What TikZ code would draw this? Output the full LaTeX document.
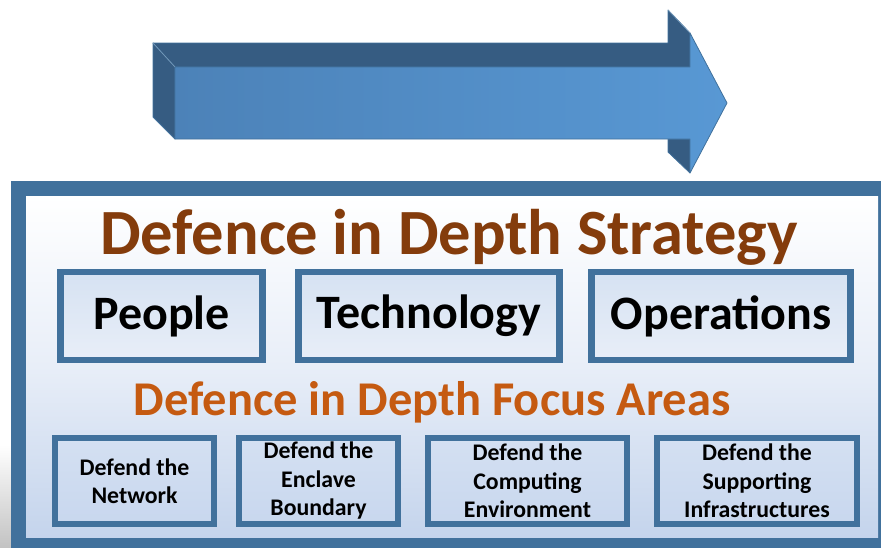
\documentclass[tikz,border=0pt]{standalone}
\usepackage{fontspec}
\setmainfont{Carlito}
\definecolor{frameblue}{RGB}{65,113,156}
\definecolor{arrowdark}{RGB}{54,92,130}
\definecolor{arrowleft}{RGB}{76,130,184}
\definecolor{arrowright}{RGB}{88,152,212}
\definecolor{titlebrown}{RGB}{132,60,12}
\definecolor{suborange}{RGB}{197,90,17}
\definecolor{bgtop}{RGB}{255,255,255}
\definecolor{bgbot}{RGB}{196,212,236}
\tikzset{
  bigbox/.style={draw=frameblue, line width=6.5pt, top color={rgb,255:red,214;green,226;blue,242}, bottom color={rgb,255:red,232;green,238;blue,248}, minimum height=88pt, inner sep=0pt, font=\bfseries\fontsize{48}{50}\selectfont},
  smallbox/.style={draw=frameblue, line width=5.5pt, top color={rgb,255:red,212;green,224;blue,242}, bottom color={rgb,255:red,200;green,215;blue,238}, minimum height=86pt, inner sep=0pt, align=center, font=\bfseries\fontsize{23.8}{28.5}\selectfont},
  arrowedge/.style={draw=frameblue, line width=0.8pt, line join=round}
}
\begin{document}
\begin{tikzpicture}[x=1pt,y=-1pt]
\useasboundingbox (0,0) rectangle (881,547);
% left soft shadow
\shade[top color=white, bottom color={rgb,255:red,195;green,195;blue,195}] (0,445) rectangle (11,547);
% arrow
\coordinate (a1) at (153,43);
\coordinate (a2) at (175,67);
\coordinate (a3) at (175,139);
\coordinate (a4) at (153,117);
\coordinate (h1) at (668,43);
\coordinate (h2) at (668,10);
\coordinate (h3) at (690,33);
\coordinate (h4) at (690,67);
\coordinate (tip) at (727,103);
\coordinate (h5) at (690,173);
\coordinate (h6) at (690,139);
\coordinate (h7) at (668,152);
\coordinate (h8) at (668,139);
\filldraw[fill=arrowdark, arrowedge] (a1) -- (h1) -- (h2) -- (h3) -- (h4) -- (a2) -- cycle;
\filldraw[fill=arrowdark, arrowedge] (a1) -- (a2) -- (a3) -- (a4) -- cycle;
\filldraw[fill=arrowdark, arrowedge] (h8) -- (h6) -- (h5) -- (h7) -- cycle;
\shade[left color=arrowleft, right color=arrowright, draw=frameblue, line width=0.8pt, line join=round] (a2) -- (h4) -- (h3) -- (tip) -- (h5) -- (h6) -- (a3) -- cycle;
\draw[frameblue!70!white, line width=0.6pt] (a1) -- (a2) (h2) -- (h3);
% frame
\fill[frameblue] (11,181) rectangle (900,560);
\shade[top color=bgtop, bottom color=bgbot, middle color={rgb,255:red,232;green,238;blue,248}] (26,196) rectangle (878,537);
% titles
\node[anchor=base, text=titlebrown, font=\bfseries\fontsize{64.5}{66}\selectfont, inner sep=0pt] (title) at (449,254) {Defence in Depth Strategy};
\node[anchor=base, text=suborange, font=\bfseries\fontsize{48.5}{50}\selectfont, inner sep=0pt] (sub) at (432,415) {Defence in Depth Focus Areas};
% big boxes
\node[bigbox, minimum width=202pt] (people) at (161.5,316) {People};
\node[bigbox, minimum width=261pt] (tech) at (429,316) {Technology};
\node[bigbox, minimum width=259pt] (ops) at (721,316) {Operations};
% small boxes
\node[smallbox, minimum width=159pt] (net) at (134.5,481) {Defend the\\Network};
\node[smallbox, minimum width=159pt] (encl) at (318.5,481) {Defend the\\Enclave\\Boundary};
\node[smallbox, minimum width=199pt] (comp) at (527.5,481) {Defend the\\Computing\\Environment};
\node[smallbox, minimum width=200pt] (supp) at (757,481) {Defend the\\Supporting\\Infrastructures};
\end{tikzpicture}
\end{document}
